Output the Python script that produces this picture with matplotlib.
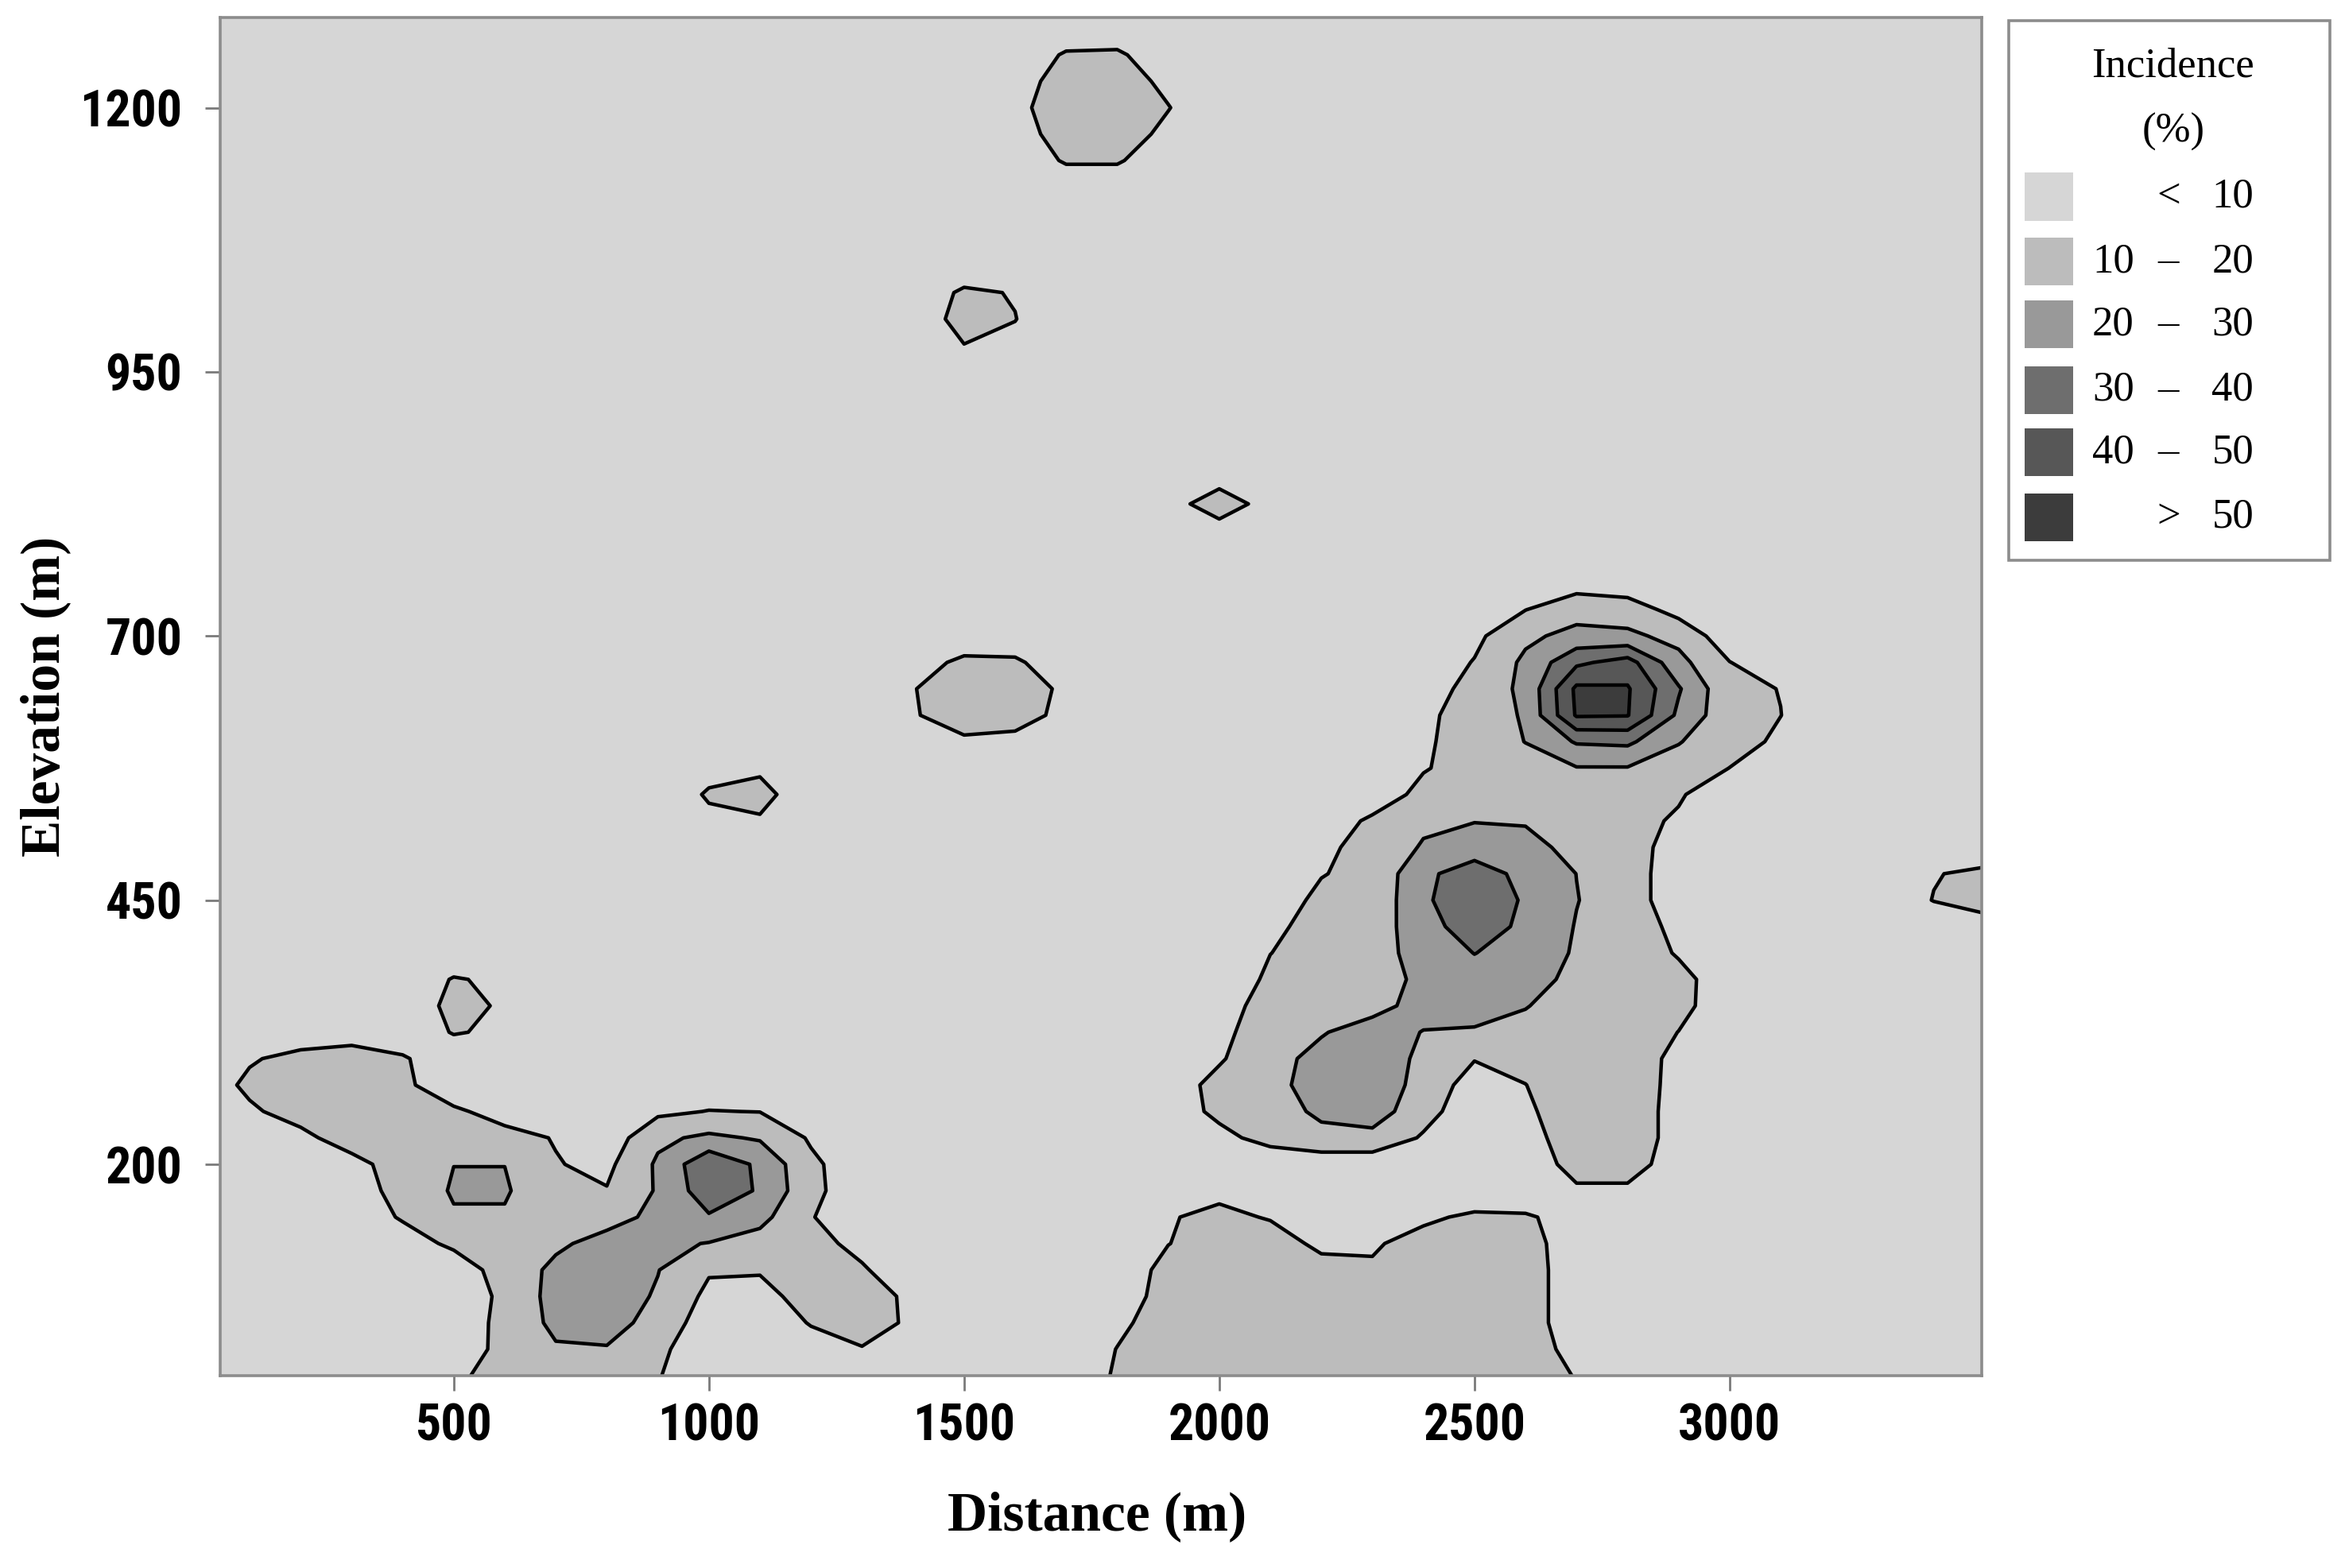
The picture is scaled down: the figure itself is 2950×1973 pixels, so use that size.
import numpy as np
import matplotlib
matplotlib.use("Agg")
import matplotlib.pyplot as plt
from matplotlib import font_manager
from matplotlib.patches import Rectangle

# incidence (%) at grid nodes (distance step 100 m, elevation step 25 m)
# every node that is not listed below sits in the "< 10" class
background = 4.0
grid_x = np.arange(0, 3501, 100)     # distance (m)
grid_y = np.arange(0, 1301, 25)      # elevation (m)

# {elevation: {distance: incidence}}
top_patch = {
    1250: {1700: 11, 1800: 11.5},
    1225: {1600: 6, 1700: 14, 1800: 14, 1900: 8},
    1200: {1600: 7.6, 1700: 15, 1800: 15, 1900: 10.3},
    1175: {1600: 6, 1700: 14, 1800: 14, 1900: 8},
    1150: {1700: 11, 1800: 11},
}
patch_1000 = {
    1025: {1500: 11.5, 1600: 9.5},
    1000: {1500: 13.5, 1600: 10.2},
    975: {1500: 9.8, 1600: 8},
}
patch_825 = {825: {2000: 18}}
patch_650 = {
    675: {1400: 6, 1500: 12, 1600: 11.5},
    650: {1400: 9.7, 1500: 14, 1600: 14, 1700: 8.5},
    625: {1400: 9.5, 1500: 13, 1600: 13, 1700: 8},
    600: {1400: 5, 1500: 9, 1600: 8},
}
patch_550 = {
    575: {1000: 7, 1100: 8.5},
    550: {1000: 11, 1100: 13},
    525: {1000: 8, 1100: 9},
}
patch_350 = {
    375: {500: 10.6, 600: 8.5},
    350: {500: 12.5, 600: 9},
    325: {500: 10.6, 600: 8.5},
}
edge_patch = {
    475: {3400: 9.5, 3500: 12},
    450: {3400: 10.3, 3500: 14},
    425: {3500: 6},
}
low_left = {
    300: {100: 9, 200: 13, 300: 16, 400: 11},
    275: {100: 12, 200: 16, 300: 17, 400: 12},
    250: {100: 8.5, 200: 14, 300: 17, 400: 15, 500: 11.5, 600: 6.5, 700: 5, 800: 6,
          900: 8, 1000: 10.3, 1100: 9.8, 1200: 6},
    225: {200: 7.3, 300: 15, 400: 16, 500: 15, 600: 13, 700: 9.5, 900: 18, 1000: 22,
          1100: 19, 1200: 8.8},
    200: {300: 6.5, 400: 15, 500: 19.9, 600: 19.9, 700: 10.5, 800: 7.7, 900: 21.5,
          1000: 38, 1100: 28, 1200: 12},
    175: {300: 5.9, 400: 13, 500: 21, 600: 21, 700: 13, 800: 10.5, 900: 21, 1000: 36,
          1100: 29, 1200: 12.5},
    150: {400: 11, 500: 19, 600: 19, 700: 15, 800: 17, 900: 22, 1000: 29, 1100: 23,
          1200: 10.5},
    125: {400: 5.3, 500: 12, 600: 14, 700: 18.5, 800: 23, 900: 22, 1000: 19.6, 1100: 16,
          1200: 13, 1300: 7.4},
    100: {600: 14.6, 700: 22, 800: 24, 900: 20.3, 1000: 11, 1100: 11, 1200: 14, 1300: 11},
    75: {600: 12, 700: 23.6, 800: 25, 900: 19, 1000: 7.6, 1100: 6, 1200: 15, 1300: 14,
         1400: 8.1},
    50: {600: 12.8, 700: 22.3, 800: 23, 900: 17.2, 1200: 10.6, 1300: 14, 1400: 8.4},
    25: {500: 5, 600: 12.5, 700: 19, 800: 19.5, 900: 12, 1200: 6, 1300: 9.5, 1400: 6},
    0: {500: 9, 600: 12, 700: 17, 800: 17, 900: 10.5},
}
low_centre = {
    175: {2000: 8},
    150: {1900: 9.4, 2000: 12, 2100: 9.4, 2400: 8.5, 2500: 11.5, 2600: 11, 2700: 6.8},
    125: {1900: 9.8, 2000: 14, 2100: 14, 2200: 8.1, 2300: 9.05, 2400: 13, 2500: 14,
          2600: 13, 2700: 5.7},
    100: {1900: 13, 2000: 15, 2100: 15, 2200: 13, 2300: 11, 2400: 14, 2500: 15, 2600: 14,
          2700: 5.1},
    75: {1800: 4.7, 1900: 14, 2000: 15, 2100: 15, 2200: 15, 2300: 15, 2400: 15, 2500: 15,
         2600: 14, 2700: 5.1},
    50: {1800: 8.2, 1900: 14, 2000: 15, 2100: 15, 2200: 15, 2300: 15, 2400: 15, 2500: 15,
         2600: 14, 2700: 5.1},
    25: {1800: 10.2, 1900: 14, 2000: 15, 2100: 15, 2200: 15, 2300: 15, 2400: 15, 2500: 15,
         2600: 14, 2700: 7.3},
    0: {1800: 11, 1900: 14, 2000: 15, 2100: 15, 2200: 15, 2300: 15, 2400: 15, 2500: 15,
        2600: 14, 2700: 9.6},
}
right_patch = {
    750: {2700: 6},
    725: {2600: 9.8, 2700: 16, 2800: 15, 2900: 6.4},
    700: {2500: 7.7, 2600: 18, 2700: 23, 2800: 22, 2900: 17},
    675: {2500: 10.5, 2600: 22, 2700: 38, 2800: 44, 2900: 23, 3000: 10.2},
    650: {2500: 14.3, 2600: 22, 2700: 52, 2800: 51, 2900: 31, 3000: 12, 3100: 9.8},
    625: {2400: 8.75, 2500: 12.65, 2600: 21.4, 2700: 51, 2800: 50.5, 2900: 28, 3000: 13,
          3100: 10.1},
    600: {2400: 8.7, 2500: 14, 2600: 20.2, 2700: 31, 2800: 32, 2900: 20.5, 3000: 14,
          3100: 8.2},
    575: {2400: 9.3, 2500: 14, 2600: 16, 2700: 19.5, 2800: 19.5, 2900: 16, 3000: 9.9},
    550: {2400: 13, 2500: 17, 2600: 16, 2700: 15, 2800: 14, 2900: 11},
    525: {2300: 11.8, 2400: 18, 2500: 19.5, 2600: 19, 2700: 16, 2800: 13, 2900: 8.8},
    500: {2200: 8.35, 2300: 12.7, 2400: 21, 2500: 27, 2600: 24, 2700: 16.2, 2800: 16},
    475: {2200: 9.8, 2300: 11.3, 2400: 28.7, 2500: 33, 2600: 28.2, 2700: 19.9, 2800: 15},
    450: {2100: 7.7, 2200: 11, 2300: 12.55, 2400: 28.4, 2500: 37, 2600: 28.8, 2700: 20.3,
          2800: 15},
    425: {2100: 8.2, 2200: 13, 2300: 15.1, 2400: 25.5, 2500: 36, 2600: 27.5, 2700: 19.5,
          2800: 14, 2900: 8},
    400: {2100: 9.9, 2200: 13, 2300: 15.8, 2400: 24, 2500: 30.2, 2600: 26, 2700: 18.9,
          2800: 14, 2900: 9.4},
    375: {2100: 11.6, 2200: 14, 2300: 16, 2400: 22, 2500: 26, 2600: 23, 2700: 18, 2800: 15,
          2900: 12, 3000: 6.3},
    350: {2000: 5.8, 2100: 14, 2200: 15, 2300: 17, 2400: 23.25, 2500: 24, 2600: 20.3,
          2700: 17, 2800: 15, 2900: 12, 3000: 5.9},
    325: {2000: 7.2, 2100: 16, 2200: 19.35, 2300: 24, 2400: 19.7, 2500: 19, 2600: 18,
          2700: 16, 2800: 14, 2900: 9.9},
    300: {2000: 8.95, 2100: 17, 2200: 22.7, 2300: 26, 2400: 17.8, 2500: 10.5, 2600: 12,
          2700: 14, 2800: 13, 2900: 8.5},
    275: {1900: 5.1, 2000: 13, 2100: 17.2, 2200: 24, 2300: 25, 2400: 17.2, 2500: 5,
          2600: 9.9, 2700: 14, 2800: 13, 2900: 8.3},
    250: {1900: 5.3, 2000: 12, 2100: 15.3, 2200: 22, 2300: 25, 2400: 13.5, 2600: 8.8,
          2700: 14, 2800: 13, 2900: 8},
    225: {2000: 7.6, 2100: 13, 2200: 17, 2300: 17, 2400: 8.95, 2600: 7.1, 2700: 14,
          2800: 13, 2900: 8},
    200: {2600: 5.9, 2700: 12.5, 2800: 12.5, 2900: 7.1},
    175: {2700: 9, 2800: 9},
}

levels = [10, 20, 30, 40, 50]
fills = ['#d6d6d6', '#bcbcbc', '#999999', '#6e6e6e', '#575757', '#3c3c3c']

x_ticks = [500, 1000, 1500, 2000, 2500, 3000]
y_ticks = [200, 450, 700, 950, 1200]

# build the grid
Z = np.full((len(grid_y), len(grid_x)), background)
xi = {int(v): i for i, v in enumerate(grid_x)}
yi = {int(v): i for i, v in enumerate(grid_y)}
for patch in [top_patch, patch_1000, patch_825, patch_650, patch_550, patch_350,
              edge_patch, low_left, low_centre, right_patch]:
    for elev, row in patch.items():
        for dist, val in row.items():
            Z[yi[elev], xi[dist]] = val

installed = {f.name for f in font_manager.fontManager.ttflist}
def pick(*names):
    for n in names:
        if n in installed:
            return n
    return 'DejaVu Sans'
tick_font = pick('Liberation Sans Narrow', 'Roboto Condensed', 'DejaVu Sans Condensed',
                 'Liberation Sans')
serif_font = pick('Liberation Serif', 'DejaVu Serif')

fig = plt.figure(figsize=(14.75, 9.865), dpi=200)
ax = fig.add_axes([0.0938, 0.1227, 0.7513, 0.8659])

bounds = [0] + levels + [100]
ax.contourf(grid_x, grid_y, Z, levels=bounds, colors=fills)
ax.contour(grid_x, grid_y, Z, levels=levels, colors='black', linewidths=1.6)

ax.set_xlim(42, 3494)
ax.set_ylim(0, 1285)
ax.set_xticks(x_ticks)
ax.set_yticks(y_ticks)
for s in ax.spines.values():
    s.set_color('#8c8c8c')
    s.set_linewidth(1.3)
ax.tick_params(axis='both', direction='out', length=7, width=1, color='#7a7a7a')
ax.tick_params(axis='x', pad=5)
ax.tick_params(axis='y', pad=10)
for lab in ax.get_xticklabels() + ax.get_yticklabels():
    lab.set_fontfamily(tick_font)
    lab.set_fontsize(23)
    lab.set_fontweight('bold')

ax.set_xlabel('Distance (m)', fontfamily=serif_font, fontweight='bold', fontsize=25)
ax.set_ylabel('Elevation (m)', fontfamily=serif_font, fontweight='bold', fontsize=25)
ax.xaxis.set_label_coords(0.4978, -0.1036)
ax.xaxis.label.set_va('center')
ax.yaxis.set_label_coords(-0.099, 0.5)
ax.yaxis.label.set_va('center')

# legend box drawn in figure coordinates
fig.patches.append(Rectangle((0.8565, 0.6425), 0.1371, 0.3442, transform=fig.transFigure,
                             facecolor='white', edgecolor='#8c8c8c', linewidth=1.3))
fig.text(0.9267, 0.9576, 'Incidence', ha='center', va='center', fontsize=19,
         fontfamily=serif_font)
fig.text(0.9267, 0.9161, '(%)', ha='center', va='center', fontsize=19,
         fontfamily=serif_font)
entries = [('', '<', levels[0])]
entries += [(lo, '–', hi) for lo, hi in zip(levels[:-1], levels[1:])]
entries += [('', '>', levels[-1])]
row_y = [0.8745, 0.8332, 0.7931, 0.7512, 0.7116, 0.6702]
for (lo, sym, hi), color, y in zip(entries, fills, row_y):
    fig.patches.append(Rectangle((0.8635, y - 0.0152), 0.0204, 0.0305,
                                 transform=fig.transFigure, facecolor=color,
                                 edgecolor='none'))
    fig.text(0.9101, y, str(lo), ha='right', va='center', fontsize=19,
             fontfamily=serif_font)
    fig.text(0.9247, y, sym, ha='center', va='center', fontsize=19,
             fontfamily=serif_font)
    fig.text(0.9611, y, str(hi), ha='right', va='center', fontsize=19,
             fontfamily=serif_font)

fig.savefig('out.png', dpi=200, facecolor='white')
